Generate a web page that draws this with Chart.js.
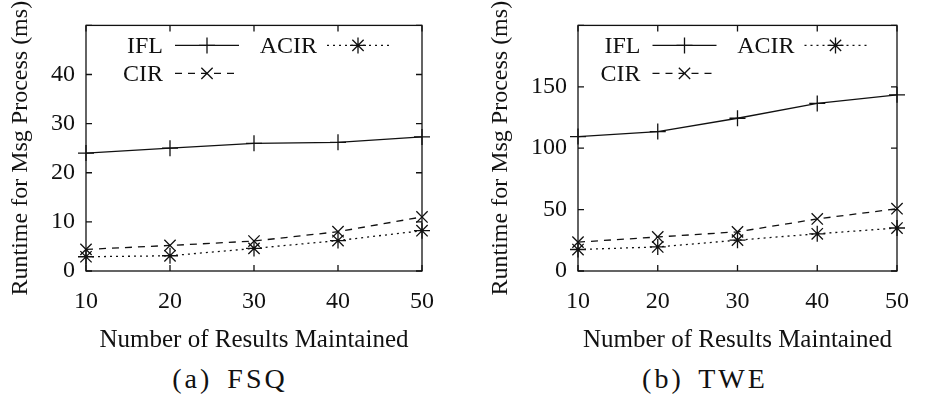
<!DOCTYPE html>
<html>
<head>
<meta charset="utf-8">
<script src="https://cdn.jsdelivr.net/npm/chart.js@4.4.1/dist/chart.umd.min.js"></script>
<style>
  body { margin: 0; background: #fff; width: 935px; height: 401px; position: relative; overflow: hidden; font-family: 'Liberation Serif', 'Times New Roman', serif; }
  canvas { position: absolute; top: 0; }
  .cap { position: absolute; top: 361px; font-family: 'Liberation Serif', 'Times New Roman', serif; font-size: 28px; line-height: 36px; transform: translateX(-50%); white-space: nowrap; letter-spacing: 3px; word-spacing: 5px; color: #111; }
</style>
</head>
<body>
<canvas id="fsq" width="450" height="355" style="left:0"></canvas>
<canvas id="twe" width="445" height="355" style="left:480px"></canvas>
<div class="cap" style="left:230px">(a) FSQ</div>
<div class="cap" style="left:705px">(b) TWE</div>
<script>
// x values (number of results maintained)
const results = [10, 20, 30, 40, 50];

// (a) FSQ, runtime in ms
const fsqIFL  = [24.0, 25.0, 26.0, 26.2, 27.3];
const fsqCIR  = [4.4, 5.2, 6.1, 8.0, 11.0];
const fsqACIR = [2.9, 3.1, 4.6, 6.2, 8.2];
const fsqYTicks = [0, 10, 20, 30, 40];

// (b) TWE, runtime in ms
const tweIFL  = [109.5, 113.5, 124.4, 136.5, 143.5];
const tweCIR  = [23.5, 27.7, 31.9, 42.4, 50.7];
const tweACIR = [17.5, 19.6, 25.1, 30.3, 35.0];
const tweYTicks = [0, 50, 100, 150];

const xTitle = 'Number of Results Maintained';
const yTitle = 'Runtime for Msg Process (ms)';
const seriesNames = ['IFL', 'CIR', 'ACIR'];

const INK = '#111';
const FONT = "'Liberation Serif', 'Times New Roman', serif";

// box round the plot + inward tick marks on every side
const frame = {
  id: 'frame',
  beforeDatasetsDraw(chart) {
    const { ctx, chartArea: a, scales: { x, y } } = chart;
    ctx.save();
    ctx.strokeStyle = INK;
    ctx.lineWidth = 1.3;
    ctx.setLineDash([]);
    ctx.strokeRect(a.left, a.top, a.width, a.height);
    ctx.beginPath();
    x.ticks.forEach(t => {
      const px = x.getPixelForValue(t.value);
      ctx.moveTo(px, a.bottom); ctx.lineTo(px, a.bottom - 6);
      ctx.moveTo(px, a.top); ctx.lineTo(px, a.top + 6);
    });
    y.ticks.forEach(t => {
      const py = y.getPixelForValue(t.value);
      ctx.moveTo(a.left, py); ctx.lineTo(a.left + 6, py);
      ctx.moveTo(a.right, py); ctx.lineTo(a.right - 6, py);
    });
    ctx.stroke();
    ctx.restore();
  }
};

// gnuplot style key inside the plot, centred at the top
const keyInside = {
  id: 'keyInside',
  afterDraw(chart, args, opts) {
    const { ctx, chartArea: a } = chart;
    const cx = (a.left + a.right) / 2 + (opts.shift || 0);
    const slots = [[0, 0], [0, 1], [1, 0]]; // IFL, CIR, ACIR -> [col,row]
    const cols = [{ text: -94, from: -82, to: -18 }, { text: 60, from: 70, to: 132 }];
    ctx.save();
    ctx.font = '24px ' + FONT;
    ctx.fillStyle = INK;
    ctx.strokeStyle = INK;
    ctx.textAlign = 'right';
    ctx.textBaseline = 'middle';
    chart.data.datasets.forEach((ds, i) => {
      const [c, r] = slots[i];
      const col = cols[c];
      const y = a.top + 20 + r * 28;
      ctx.fillText(ds.label, cx + col.text, y + 1);
      ctx.lineWidth = 1.3;
      ctx.setLineDash(ds.borderDash || []);
      ctx.beginPath();
      ctx.moveTo(cx + col.from, y);
      ctx.lineTo(cx + col.to, y);
      ctx.stroke();
      ctx.setLineDash([]);
      Chart.helpers.drawPoint(ctx, { pointStyle: ds.pointStyle, radius: 8, borderWidth: 1.3, rotation: 0 },
        cx + (col.from + col.to) / 2, y);
    });
    ctx.restore();
  }
};

function series(label, ys, style, dash) {
  return {
    label: label,
    data: results.map((x, i) => ({ x: x, y: ys[i] })),
    borderColor: INK,
    borderWidth: 1.3,
    borderDash: dash,
    pointStyle: style,
    pointRadius: 8,
    pointBorderWidth: 1.3,
    pointBorderColor: INK,
    pointBackgroundColor: 'rgba(0,0,0,0)',
    fill: false,
    tension: 0,
    clip: false,
  };
}

function makeChart(id, ifl, cir, acir, yMax, yStep, yTicks, yAxisWidth, rightPad, keyShift) {
  const ctx = document.getElementById(id).getContext('2d');
  return new Chart(ctx, {
    type: 'line',
    data: {
      datasets: [
        series(seriesNames[0], ifl, 'cross', []),
        series(seriesNames[1], cir, 'crossRot', [7, 6]),
        series(seriesNames[2], acir, 'star', [2, 4]),
      ],
    },
    options: {
      responsive: false,
      animation: false,
      layout: { padding: { top: 16, right: rightPad, left: 0, bottom: 0 } },
      plugins: {
        legend: { display: false },
        tooltip: { enabled: false },
        keyInside: { shift: keyShift },
      },
      scales: {
        x: {
          type: 'linear',
          min: 10,
          max: 50,
          ticks: { stepSize: 10, color: INK, padding: 16, font: { family: FONT, size: 24 } },
          grid: { display: false, drawTicks: false },
          border: { display: false },
          title: { display: true, text: xTitle, color: INK, padding: { top: 0, bottom: 0 }, font: { family: FONT, size: 25 } },
          afterFit(scale) { scale.height = 84; },
        },
        y: {
          min: 0,
          max: yMax,
          ticks: {
            stepSize: yStep,
            color: INK,
            padding: 11,
            font: { family: FONT, size: 24 },
            callback: v => (yTicks.includes(v) ? v : ''),
          },
          grid: { display: false, drawTicks: false },
          border: { display: false },
          title: { display: true, text: yTitle, color: INK, padding: { top: 6, bottom: 0 }, font: { family: FONT, size: 24 } },
          afterFit(scale) { scale.width = yAxisWidth; },
        },
      },
    },
    plugins: [frame, keyInside],
  });
}

makeChart('fsq', fsqIFL, fsqCIR, fsqACIR, 50, 10, fsqYTicks, 86, 23, 3);
makeChart('twe', tweIFL, tweCIR, tweACIR, 200, 50, tweYTicks, 98, 22, -3);
</script>
</body>
</html>
